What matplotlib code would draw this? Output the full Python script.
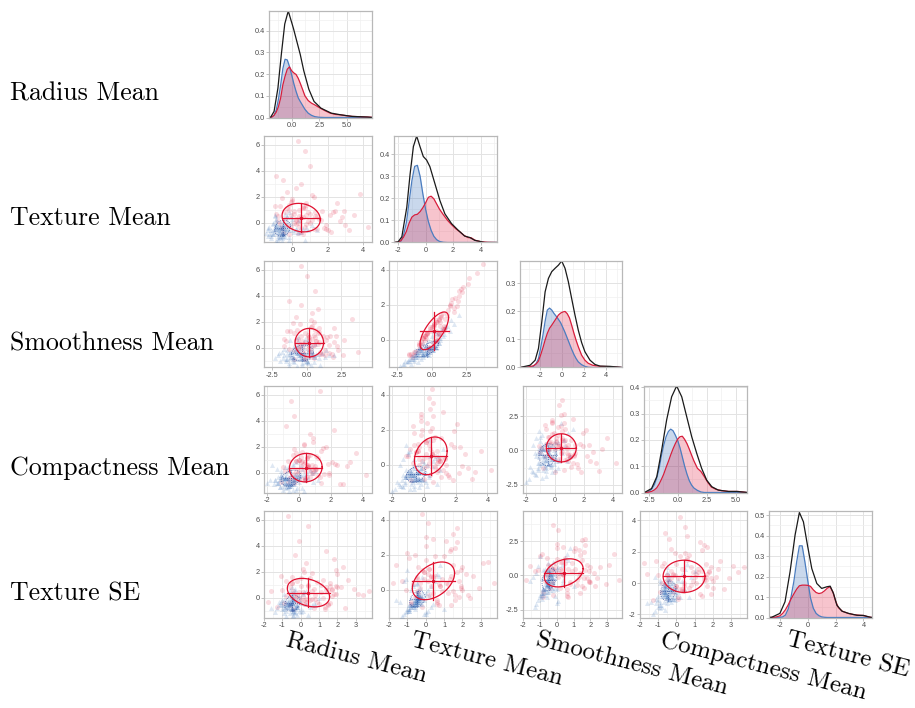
import numpy as np
import matplotlib
matplotlib.use("Agg")
import matplotlib.pyplot as plt

# ---------------- data ----------------
variables = ["Radius Mean", "Texture Mean", "Smoothness Mean", "Compactness Mean", "Texture SE"]

benign_radius = [-0.9, -0.5, -0.3, -1.1, -0.6, -0.2, -0.8, -0.4, -0.7, 0.1,
                 -1.3, -0.5, -0.6, -0.9, -0.1, -0.4, -0.7, -1.0, -0.3, 0.3,
                 -0.6, -0.8, -0.5, -1.2, -0.2, -0.4, -0.9, -0.6, 0.0, -0.7,
                 -0.5, -1.0, -0.3, -0.8, -0.6, 0.5, -0.4, -1.4, -0.2, -0.7,
                 -0.9, -0.5, -0.1, -0.6, -1.1, -0.3, -0.8, -0.4, 0.2, -0.7,
                 -0.5, -1.0, -0.6, -0.3, -0.9, 0.7, -0.4, -0.8, -0.2, -0.6,
                 -1.2, 0.4, -0.8, -0.2, -1.0, 0.0, -0.5, -1.3, 0.6, -0.7,
                 -0.3, -0.9, 0.2, -1.1, -0.6, -0.1, -0.4, -1.4, 0.3, -0.8,
                 -0.5, -1.0, 0.1, -0.2, -0.7, -1.2, 0.5, -0.6, -0.9, -0.3,
                 -0.4, 0.8, -1.1, -0.7, 0.0, -0.5, -1.3, -0.2, 0.4, -0.8]
benign_texture = [-0.8, -0.6, -0.9, -0.4, -1.1, -0.5, -0.7, -0.3, -1.0, -0.6,
                  -0.2, -0.8, -1.2, -0.5, -0.7, -0.9, -0.4, -0.6, -1.3, 0.0,
                  -0.7, -0.5, -1.0, -0.8, -0.3, -0.6, -1.1, -0.4, -0.9, -0.7,
                  0.2, -0.5, -0.8, -0.6, -1.4, -0.3, -0.7, -0.9, -0.5, 0.5,
                  -0.6, -1.0, -0.4, -0.8, -0.2, -0.7, -1.2, -0.5, -0.9, -0.6,
                  -0.3, -0.8, 0.9, -0.7, -1.1, -0.4, -0.6, -1.5, -0.5, 1.4,
                  -1.2, -0.3, 0.3, -0.9, -1.4, -0.1, 0.6, -0.8, -1.0, 0.1,
                  -0.5, -1.3, 0.4, -0.7, -0.2, -1.1, 0.8, -0.6, -0.9, -0.4,
                  0.2, -1.2, -0.3, 1.1, -0.8, -0.6, -1.0, 0.0, -0.5, 0.5,
                  -1.4, -0.2, -0.7, 0.3, -1.1, -0.4, 0.7, -0.9, -0.1, -0.6]
benign_smooth = [-0.7, -0.2, -1.2, 0.1, -1.3, -0.6, -0.3, 0.4, -1.0, -0.9,
                 0.3, -0.4, -1.6, -0.1, -0.8, -0.6, -0.2, 0.0, -1.8, 0.6,
                 -0.5, -0.9, -1.1, -0.3, 0.2, -0.7, -1.5, -0.5, -0.4, -1.0,
                 0.8, 0.0, -0.6, -1.2, -2.1, 0.1, -0.2, -1.3, -0.8, 1.3,
                 -0.3, -1.4, 0.2, -0.6, 0.5, -1.1, -1.7, -0.2, -0.7, 0.1,
                 -0.4, -1.0, 1.6, -0.5, -1.4, -0.1, -0.8, -2.3, 0.3, 2.0,
                 -1.3, 0.2, 0.9, -1.0, -1.5, -0.2, 0.7, -0.3, -1.2, 0.6,
                 -0.9, -1.0, 0.3, -0.1, 0.5, -1.6, 1.1, -0.7, -0.2, -0.5,
                 0.0, -1.9, -0.4, 1.4, -1.1, 0.1, -0.6, 0.4, -0.2, 0.2,
                 -2.0, -0.6, -0.9, 0.5, -0.8, 0.3, 1.0, -1.4, 0.1, -0.4]
benign_compact = [-0.5, -1.0, -0.3, -0.8, -1.2, 0.0, -0.6, -0.9, -0.4, -1.1,
                  -0.2, -0.7, -1.5, -0.5, 0.3, -0.8, -1.0, -0.6, -1.3, 0.2,
                  -0.4, -0.9, -0.7, -0.1, -1.1, -0.6, -1.6, -0.3, -0.8, -0.5,
                  0.6, -1.0, -0.2, -0.7, -1.8, -0.4, -0.9, -0.6, 0.1, 0.9,
                  -0.8, -1.2, -0.5, -0.3, -0.7, -1.0, -1.4, 0.0, -0.6, -0.9,
                  -0.2, -0.5, 1.2, -1.1, -0.8, -0.4, -0.7, -2.0, -0.3, 0.4,
                  0.2, -0.9, -1.3, -0.1, -0.6, 0.5, -1.0, -0.4, -1.7, 0.0,
                  -0.8, -0.3, 0.7, -1.2, -0.5, -0.2, -0.9, 0.3, -1.4, -0.7,
                  -0.1, -0.6, 1.0, -1.1, -0.3, -0.8, 0.1, -1.5, -0.4, 0.4,
                  -0.9, -0.2, -1.2, -0.6, 0.8, -0.4, -1.0, 0.0, -0.7, -1.3]
benign_texse = [-0.5, -0.3, -0.7, -0.4, -0.9, -0.2, -0.6, -0.5, -0.8, -0.1,
                -0.4, -0.6, -1.0, -0.3, -0.5, -0.7, -0.2, -0.4, -1.1, 0.1,
                -0.6, -0.5, -0.8, -0.3, -0.4, -0.6, -0.9, -0.2, -0.5, -0.7,
                0.3, -0.4, -0.6, -0.5, -1.2, -0.3, -0.5, -0.8, -0.4, 0.5,
                -0.5, -0.7, -0.3, -0.6, 0.0, -0.4, -0.9, -0.5, -0.6, -0.2,
                -0.4, -0.8, 0.6, -0.5, -1.0, -0.3, -0.6, -1.3, -0.4, 0.8,
                -0.9, 0.2, -0.5, -0.7, -0.1, -0.4, -1.1, 0.4, -0.6, -0.3,
                -0.8, 0.0, -0.5, -1.4, -0.2, -0.6, 0.7, -0.4, -0.9, -0.3,
                -0.7, 0.1, -0.5, -1.0, -0.2, -0.6, 0.3, -0.8, -0.4, -1.2,
                0.0, -0.5, -0.3, -0.7, 1.0, -0.6, -0.2, -0.9, -0.4, -1.6]

malig_radius = [0.2, 1.1, -0.5, 0.6, 0.1, -0.2, 0.9, 0.4, -0.8, 1.5,
                0.0, 1.6, 0.7, -0.3, 1.3, 0.3, -0.1, -0.6, 0.8, 0.1,
                3.0, 0.5, -0.1, 1.8, 0.6, -0.9, 1.0, 0.2, 0.5, -0.4,
                0.9, 6.3, 0.4, -0.2, 1.4, 0.0, -0.5, 0.7, -0.7, 2.2,
                0.3, 4.4, -0.3, 0.8, 1.1,
                1.9, -0.4, 0.8, 2.7, 0.1, -0.9, 1.2, 0.5, 3.6, -0.2,
                0.7, 1.5, -0.6, 0.3, 2.0, 1.0, -0.3, 0.6, 5.5, 0.2,
                1.3, -0.8, 0.9, 0.0, 2.4, 0.4, -0.5, 1.7, 0.6, -0.1,
                3.3, 0.8, 0.2, -0.7, 1.1, 0.5, 2.1, -0.3, 0.9, 1.4]
malig_texture = [0.4, -0.3, 1.2, 0.8, -0.8, 1.9, 0.1, 0.6, -0.5, 2.5,
                 0.3, -0.1, 1.0, 0.7, -1.0, 1.5, 0.2, 3.2, -0.4, 0.9,
                 0.5, 1.3, -0.7, 0.0, 2.1, 0.6, -0.2, 1.1, 0.4, -0.6,
                 1.7, 0.3, 2.8, -0.3, 0.8, 0.1, 1.4, -0.9, 0.5, 3.8,
                 0.2, 1.0, -0.1, 2.3, 0.7,
                 -0.6, 1.8, 0.9, 0.2, 2.7, -0.2, 0.6, 1.4, -0.9, 3.0,
                 0.1, 0.8, 2.0, -0.4, 1.2, 0.4, 4.3, -0.1, 0.7, 1.6,
                 -0.7, 0.3, 2.4, 1.0, -0.3, 0.5, 1.9, 0.0, 3.5, 0.8,
                 -0.5, 1.3, 0.2, 2.2, 0.6, -0.8, 1.1, 0.4, 2.9, -0.2]
malig_smooth = [0.5, -0.9, 1.0, 0.2, -1.6, 1.3, -0.4, 0.9, -0.2, 2.0,
                -0.3, 0.3, 0.4, 1.0, -1.4, 0.8, -0.6, 2.6, 0.1, 0.2,
                0.8, 0.7, -1.3, -0.5, 1.4, -0.1, 0.1, 0.5, -0.3, -0.2,
                1.2, -0.4, 2.0, -0.9, 0.6, -0.6, 1.1, -1.6, 0.3, 3.3,
                -0.5, 0.6, 0.3, 1.5, -0.1,
                -1.0, 1.6, 0.2, 0.4, 2.2, -0.9, 0.9, 0.7, -1.3, 2.3,
                -0.6, 0.9, 1.3, -0.2, 0.5, 0.5, 3.7, -0.8, 0.0, 1.6,
                -1.2, 0.5, 1.7, 0.3, -0.8, -0.1, 1.8, 0.4, 2.7, 0.1,
                -0.4, 0.6, -0.5, 1.9, 0.8, -1.5, 0.3, -0.3, 2.1, -0.7]
malig_compact = [0.3, 1.2, -0.4, 0.8, 0.0, 1.9, -0.7, 0.5, 1.4, -0.2,
                 0.9, 0.2, 2.3, -0.5, 0.6, 1.1, -0.1, 0.4, 3.2, -0.9,
                 0.7, 0.1, 1.6, -0.3, 0.5, 2.6, 0.0, -0.6, 1.0, 0.4,
                 -0.2, 1.3, 0.6, 4.2, -0.4, 0.8, 0.2, 1.8, -1.1, 0.3,
                 1.0, -0.3, 0.7, 2.1, 0.5,
                 1.5, -0.6, 0.4, 0.9, -0.2, 2.8, 0.1, 0.6, -0.8, 1.2,
                 0.3, 3.6, -0.1, 0.8, 1.7, 0.0, 0.5, 2.4, -0.5, 0.7,
                 1.1, -0.3, 0.2, 1.9, 0.9, -1.0, 0.4, 1.4, 0.6, -0.4,
                 2.2, 0.1, 1.0, -0.7, 0.5, 3.0, 0.3, 1.3, -0.2, 0.7]
malig_texse = [-0.3, 1.6, 0.2, 1.4, -0.8, 0.5, 1.9, -0.1, 2.4, 0.0,
               1.2, -0.5, 1.7, 0.3, -0.2, 3.1, 0.8, 1.5, -0.6, 0.1,
               1.8, -0.4, 0.6, 2.0, -1.0, 1.3, 0.4, -0.2, 3.7, 1.6,
               0.0, -0.7, 1.1, 0.2, 2.6, -0.3, 1.5, 0.7, -1.3, 0.1,
               1.9, -0.1, 0.9, 1.4, -0.5,
               0.6, -0.9, 2.2, 0.3, 1.7, -0.4, 0.9, -1.6, 1.4, 0.0,
               2.9, 0.5, -0.6, 1.8, 0.2, 1.1, -0.2, 1.5, 0.4, 3.4,
               -0.8, 0.7, 1.6, -0.1, 2.3, 0.1, 1.0, -1.1, 1.7, 0.3,
               -0.3, 2.0, 0.8, 1.3, -0.5, 0.6, 1.9, -1.8, 0.4, 1.2]

# density curves (diagonal)
radius_dx = [-2.0, -1.8, -1.6, -1.4, -1.2, -1.0, -0.8, -0.6, -0.4, -0.2, 0.0, 0.2, 0.4, 0.6, 0.8, 1.0,
             1.2, 1.5, 1.8, 2.1, 2.5, 3.0, 3.5, 4.0, 4.5, 5.0, 5.5, 6.0, 6.5, 7.0, 7.3]
radius_db = [0, 0.002, 0.01, 0.035, 0.085, 0.15, 0.225, 0.268, 0.265, 0.235, 0.196, 0.155, 0.12, 0.09,
             0.072, 0.055, 0.038, 0.02, 0.01, 0.004, 0.001, 0, 0, 0, 0, 0, 0, 0, 0, 0, 0]
radius_dm = [0, 0.002, 0.01, 0.025, 0.05, 0.09, 0.15, 0.19, 0.222, 0.233, 0.215, 0.205, 0.198, 0.18,
             0.155, 0.128, 0.1, 0.078, 0.066, 0.058, 0.046, 0.032, 0.02, 0.014, 0.012, 0.008, 0.005,
             0.004, 0.003, 0.002, 0.001]
radius_ax = [-2.06, -1.9, -1.6, -1.25, -0.94, -0.63, -0.31, 0.16, 0.47, 0.78, 1.1, 1.56, 2.03, 2.66,
             3.6, 4.5, 5.5, 6.9, 7.3]
radius_ay = [0, 0.002, 0.028, 0.135, 0.29, 0.43, 0.49, 0.41, 0.35, 0.29, 0.215, 0.13, 0.074, 0.043,
             0.02, 0.012, 0.005, 0.002, 0]

texture_dx = [-2.3, -2.0, -1.8, -1.6, -1.4, -1.2, -1.0, -0.8, -0.6, -0.4, -0.2, 0.0, 0.2, 0.4, 0.6,
              0.8, 1.0, 1.3, 1.6, 1.9, 2.2, 2.5, 2.8, 3.1, 3.3, 3.6, 4.0, 4.5, 5.19]
texture_db = [0, 0.001, 0.005, 0.035, 0.09, 0.185, 0.28, 0.345, 0.35, 0.3, 0.22, 0.15, 0.095, 0.055,
              0.028, 0.013, 0.005, 0.001, 0, 0, 0, 0, 0, 0, 0, 0, 0, 0, 0]
texture_dm = [0, 0.002, 0.008, 0.025, 0.05, 0.088, 0.115, 0.125, 0.128, 0.14, 0.158, 0.18, 0.205, 0.21,
              0.198, 0.175, 0.152, 0.125, 0.1, 0.08, 0.062, 0.048, 0.032, 0.022, 0.022, 0.01, 0.004,
              0.001, 0]
texture_ax = [-2.3, -2.0, -1.73, -1.37, -1.13, -0.89, -0.65, -0.41, -0.17, 0.07, 0.31, 0.67, 1.04, 1.4,
              1.88, 2.36, 2.84, 3.2, 3.57, 4.3, 5.19]
texture_ay = [0, 0.003, 0.026, 0.16, 0.31, 0.435, 0.483, 0.435, 0.39, 0.374, 0.344, 0.268, 0.19, 0.13,
              0.086, 0.056, 0.029, 0.023, 0.01, 0.0, 0]

smooth_dx = [-3.77, -3.0, -2.56, -2.3, -2.1, -1.9, -1.7, -1.5, -1.3, -1.1, -0.9, -0.7, -0.5, -0.3, -0.1,
             0.1, 0.3, 0.5, 0.7, 0.9, 1.1, 1.3, 1.5, 1.8, 2.1, 2.4, 2.8, 3.5, 4.4, 5.45]
smooth_db = [0, 0.001, 0.004, 0.015, 0.032, 0.07, 0.115, 0.165, 0.205, 0.212, 0.205, 0.193, 0.183, 0.172,
             0.16, 0.143, 0.125, 0.105, 0.085, 0.065, 0.047, 0.032, 0.02, 0.01, 0.004, 0.001, 0, 0, 0, 0]
smooth_dm = [0, 0.002, 0.006, 0.013, 0.023, 0.045, 0.07, 0.098, 0.122, 0.14, 0.151, 0.163, 0.175, 0.187,
             0.194, 0.198, 0.2, 0.192, 0.177, 0.151, 0.123, 0.097, 0.074, 0.044, 0.026, 0.015, 0.008,
             0.004, 0.003, 0]
smooth_ax = [-3.77, -2.86, -2.4, -2.1, -1.8, -1.5, -1.2, -0.9, -0.6, -0.3, 0.0, 0.3, 0.6, 0.9, 1.2, 1.5,
             1.8, 2.1, 2.56, 3.0, 3.46, 4.37, 5.3, 5.45]
smooth_ay = [0, 0.008, 0.026, 0.068, 0.163, 0.27, 0.318, 0.342, 0.354, 0.365, 0.38, 0.354, 0.306, 0.246,
             0.187, 0.133, 0.089, 0.056, 0.026, 0.011, 0.005, 0.004, 0.001, 0]

compact_dx = [-2.9, -2.54, -2.25, -2.0, -1.8, -1.6, -1.4, -1.2, -1.0, -0.8, -0.6, -0.4, -0.2, 0.0, 0.2,
              0.4, 0.6, 0.8, 1.0, 1.2, 1.4, 1.7, 2.0, 2.3, 2.6, 2.9, 3.3, 3.8, 4.4, 5.2, 5.97]
compact_db = [0, 0.002, 0.012, 0.03, 0.055, 0.09, 0.14, 0.18, 0.212, 0.232, 0.241, 0.235, 0.218, 0.198,
              0.17, 0.135, 0.1, 0.07, 0.045, 0.028, 0.017, 0.008, 0.002, 0, 0, 0, 0, 0, 0, 0, 0]
compact_dm = [0, 0.001, 0.004, 0.01, 0.018, 0.032, 0.05, 0.07, 0.095, 0.118, 0.143, 0.166, 0.186, 0.203,
              0.212, 0.214, 0.202, 0.186, 0.165, 0.142, 0.12, 0.092, 0.08, 0.06, 0.038, 0.021, 0.012,
              0.007, 0.004, 0.004, 0]
compact_ax = [-2.9, -2.82, -2.25, -1.8, -1.38, -0.95, -0.52, -0.09, 0.35, 0.78, 1.21, 1.64, 2.07, 2.5,
              2.94, 3.5, 4.38, 5.1, 5.8, 5.97]
compact_ay = [0, 0.001, 0.015, 0.06, 0.161, 0.276, 0.364, 0.405, 0.364, 0.288, 0.212, 0.149, 0.091,
              0.047, 0.022, 0.009, 0.004, 0.004, 0.001, 0]

texse_dx = [-2.78, -2.3, -2.0, -1.8, -1.6, -1.4, -1.2, -1.0, -0.8, -0.6, -0.4, -0.2, 0.0, 0.2, 0.4, 0.6,
            0.8, 1.0, 1.2, 1.4, 1.6, 1.8, 2.0, 2.2, 2.5, 2.9, 3.3, 3.7, 4.0, 4.3, 4.61]
texse_db = [0, 0, 0.001, 0.003, 0.012, 0.042, 0.1, 0.175, 0.27, 0.35, 0.35, 0.27, 0.18, 0.095, 0.045,
            0.02, 0.009, 0.003, 0.001, 0, 0, 0, 0, 0, 0, 0, 0, 0, 0, 0, 0]
texse_dm = [0, 0.002, 0.008, 0.02, 0.038, 0.062, 0.09, 0.115, 0.138, 0.155, 0.158, 0.158, 0.157, 0.152,
            0.135, 0.122, 0.117, 0.12, 0.13, 0.143, 0.15, 0.125, 0.08, 0.048, 0.03, 0.02, 0.014, 0.011,
            0.01, 0.004, 0]
texse_ax = [-2.78, -2.59, -2.0, -1.63, -1.27, -0.91, -0.6, -0.31, -0.02, 0.29, 0.65, 1.0, 1.37, 1.61,
            1.85, 2.09, 2.45, 2.93, 3.53, 4.0, 4.5, 4.61]
texse_ay = [0, 0.001, 0.02, 0.077, 0.223, 0.402, 0.513, 0.467, 0.353, 0.239, 0.166, 0.142, 0.15, 0.153,
            0.117, 0.06, 0.031, 0.02, 0.011, 0.01, 0.001, 0]

# ellipse summaries (centre, half-extent per variable; correlation per pair)
malig_centre = [0.39, 0.5, 0.19, 0.43, 0.42]
malig_half = [1.1, 1.08, 1.03, 1.03, 1.15]
benign_centre = [-0.42, -0.55, -0.3, -0.5, -0.45]
benign_half = [0.62, 0.45, 0.8, 0.62, 0.42]
pair_row = [1, 2, 2, 3, 3, 3, 4, 4, 4, 4]
pair_col = [0, 0, 1, 0, 1, 2, 0, 1, 2, 3]
malig_rho = [-0.14, 0.0, 0.7, 0.05, 0.25, 0.0, -0.3, 0.4, 0.3, 0.0]
benign_rho = [0.2, 0.1, 0.7, 0.3, 0.3, 0.1, 0.2, 0.3, 0.3, 0.2]

# axis settings
scatter_lim = [(-1.53, 6.69), (-1.6, 4.5), (-3.08, 4.72), (-2.2, 4.6), (-2.0, 3.88)]
scatter_xticks = [None, [0, 2, 4], [-2.5, 0, 2.5], [-2, 0, 2, 4], [-2, -1, 0, 1, 2, 3]]
scatter_xlabels = [None, ["0", "2", "4"], ["-2.5", "0.0", "2.5"], ["-2", "0", "2", "4"],
                   ["-2", "-1", "0", "1", "2", "3"]]
scatter_yticks = [[0, 2, 4, 6], [0, 2, 4], [-2.5, 0, 2.5], [-2, 0, 2, 4]]
scatter_ylabels = [["0", "2", "4", "6"], ["0", "2", "4"], ["-2.5", "0.0", "2.5"], ["-2", "0", "2", "4"]]
diag_xlim = [(-2.06, 7.3), (-2.3, 5.19), (-3.77, 5.45), (-2.9, 5.97), (-2.78, 4.61)]
diag_ytop = [0.49, 0.483, 0.38, 0.405, 0.52]
diag_xticks = [[0, 2.5, 5], [-2, 0, 2, 4], [-2, 0, 2, 4], [-2.5, 0, 2.5, 5], [-2, 0, 2, 4]]
diag_xlabels = [["0.0", "2.5", "5.0"], ["-2", "0", "2", "4"], ["-2", "0", "2", "4"],
                ["-2.5", "0.0", "2.5", "5.0"], ["-2", "0", "2", "4"]]
diag_yticks = [[0, 0.1, 0.2, 0.3, 0.4], [0, 0.1, 0.2, 0.3, 0.4], [0, 0.1, 0.2, 0.3],
               [0, 0.1, 0.2, 0.3, 0.4], [0, 0.1, 0.2, 0.3, 0.4, 0.5]]

# ---------------- drawing ----------------
W, H = 915, 708
fig = plt.figure(figsize=(W / 100, H / 100), dpi=100)

BLUE = "#2A66B5"
RED = "#E3163A"
BLUE_LINE = "#4B7DC0"
RED_LINE = "#D81E3C"
GRID = "#E3E3E3"
GRID_MINOR = "#F0F0F0"
BORDER = "#B8B8B8"
TICKTXT = "#4D4D4D"


def add_ax(left, top, right, bottom):
    return fig.add_axes([left / W, 1 - bottom / H, (right - left) / W, (bottom - top) / H])


def minor_of(ticks, lim):
    if len(ticks) < 2:
        return []
    step = ticks[1] - ticks[0]
    cand = [ticks[0] - step / 2] + [t + step / 2 for t in ticks]
    return [m for m in cand if lim[0] <= m <= lim[1]]


def style(ax, xlim, ylim, xt, xl, yt, yl):
    ax.set_xlim(*xlim)
    ax.set_ylim(*ylim)
    ax.set_xticks(xt)
    ax.set_xticklabels(xl)
    ax.set_yticks(yt)
    ax.set_yticklabels(yl)
    ax.set_xticks(minor_of(xt, xlim), minor=True)
    ax.set_yticks(minor_of(yt, ylim), minor=True)
    ax.grid(which="major", color=GRID, lw=0.7)
    ax.grid(which="minor", color=GRID_MINOR, lw=0.5)
    ax.set_axisbelow(True)
    ax.tick_params(which="minor", length=0)
    ax.tick_params(which="major", length=2, width=0.6, color=BORDER, labelsize=5.3,
                   labelcolor=TICKTXT, pad=1.2)
    for lab in ax.get_xticklabels() + ax.get_yticklabels():
        lab.set_fontfamily("Liberation Sans")
    for s in ax.spines.values():
        s.set_color(BORDER)
        s.set_linewidth(0.9)


benign = [benign_radius, benign_texture, benign_smooth, benign_compact, benign_texse]
malig = [malig_radius, malig_texture, malig_smooth, malig_compact, malig_texse]
dens = [(radius_dx, radius_db, radius_dm, radius_ax, radius_ay),
        (texture_dx, texture_db, texture_dm, texture_ax, texture_ay),
        (smooth_dx, smooth_db, smooth_dm, smooth_ax, smooth_ay),
        (compact_dx, compact_db, compact_dm, compact_ax, compact_ay),
        (texse_dx, texse_db, texse_dm, texse_ax, texse_ay)]

scatter_offset = [14, 14, 23, 15]
diag_offset = [19, 19, 20, 19, 19]

tt = np.linspace(0, 2 * np.pi, 200)


def ellipse(ax, cx, cy, hx, hy, rho, color, ls, lw):
    ex = cx + hx * np.cos(tt)
    ey = cy + hy * (rho * np.cos(tt) + np.sqrt(1 - rho ** 2) * np.sin(tt))
    ax.plot(ex, ey, color=color, ls=ls, lw=lw, zorder=5)
    ax.plot([cx - hx, cx + hx], [cy, cy], color=color, ls=ls, lw=lw, zorder=5)
    ax.plot([cx, cx], [cy - hy, cy + hy], color=color, ls=ls, lw=lw, zorder=5)


for r in range(5):
    top = 11 + 125 * r
    bottom = 117.5 + 125 * r
    for c in range(r + 1):
        right = 372 + 125 * c
        if c == r:
            left = 250 + 125 * c + diag_offset[c]
            ax = add_ax(left, top, right, bottom)
            dx, db, dm, axx, ayy = dens[r]
            ax.fill_between(dx, db, color=BLUE, alpha=0.25, lw=0)
            ax.plot(dx, db, color=BLUE_LINE, lw=0.9)
            ax.fill_between(dx, dm, color=RED, alpha=0.25, lw=0)
            ax.plot(dx, dm, color=RED_LINE, lw=0.9)
            ax.plot(axx, ayy, color="#1a1a1a", lw=0.9)
            style(ax, diag_xlim[r], (0, diag_ytop[r]), diag_xticks[r], diag_xlabels[r],
                  diag_yticks[r], [f"{v:.1f}" for v in diag_yticks[r]])
        else:
            left = 250 + 125 * c + scatter_offset[c]
            ax = add_ax(left, top, right, bottom)
            ax.scatter(malig[r], malig[c], s=13, marker="o", color=RED, alpha=0.15, lw=0, zorder=2)
            ax.scatter(benign[r], benign[c], s=13, marker="^", color=BLUE, alpha=0.15, lw=0, zorder=3)
            k = [i for i in range(len(pair_row)) if pair_row[i] == r and pair_col[i] == c][0]
            ellipse(ax, benign_centre[r], benign_centre[c], benign_half[r], benign_half[c],
                    benign_rho[k], "#2B4A9A", (0, (1, 1.5)), 0.55)
            ellipse(ax, malig_centre[r], malig_centre[c], malig_half[r], malig_half[c],
                    malig_rho[k], "#E0102F", "-", 0.9)
            ax.scatter([malig_centre[r]], [malig_centre[c]], s=6, color="#E0102F", zorder=6, lw=0)
            style(ax, scatter_lim[r], scatter_lim[c], scatter_xticks[r], scatter_xlabels[r],
                  scatter_yticks[c], scatter_ylabels[c])

# row labels
for r in range(5):
    yc = (11 + 117.5) / 2 + 125 * r + 29
    fig.text(10 / W, 1 - yc / H, variables[r], fontfamily="cmr10", fontsize=18.6,
             ha="left", va="center", color="black")

# bottom labels
for c in range(5):
    x0 = 289 + 125 * c
    fig.text(x0 / W, 1 - 629 / H, variables[c], fontfamily="cmr10", fontsize=18.0,
             ha="left", va="top", rotation=-14.5, rotation_mode="anchor", color="black")

fig.savefig("out.png", dpi=100)
